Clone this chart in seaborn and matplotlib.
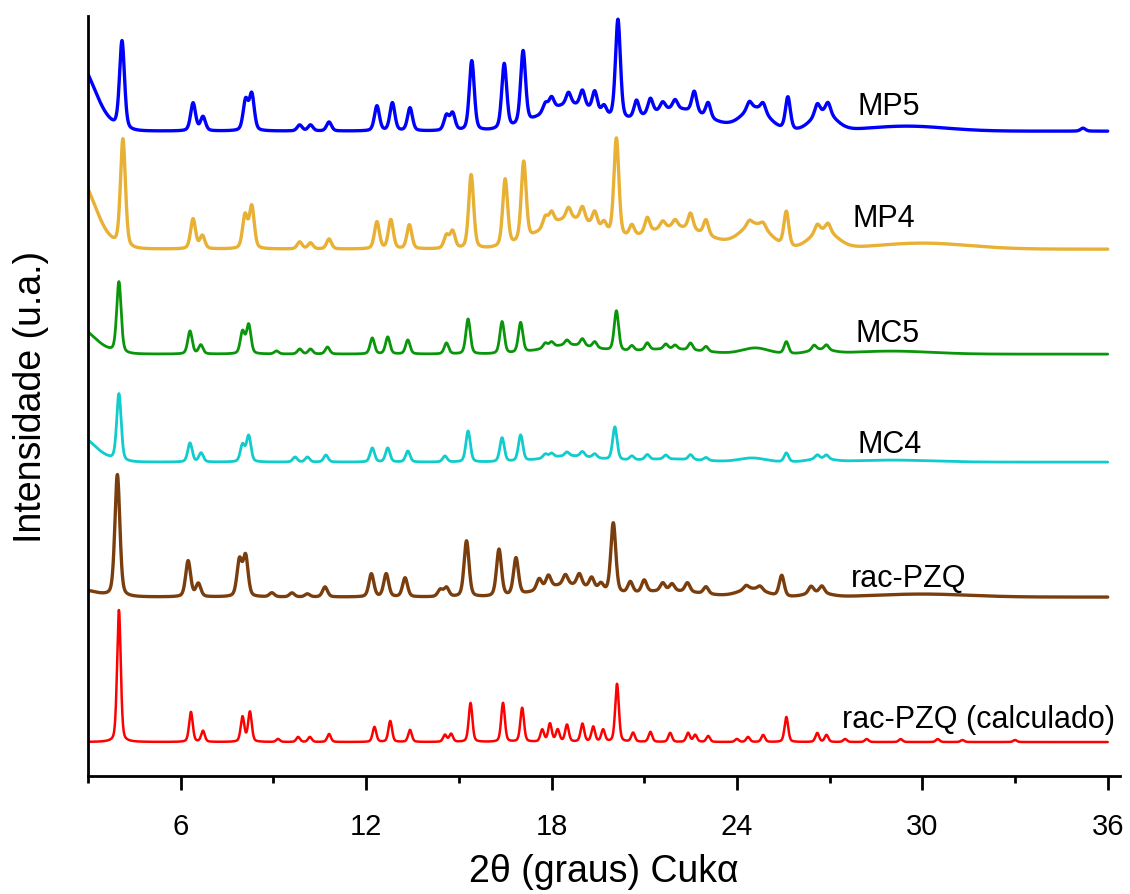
import numpy as np
import pandas as pd
import matplotlib
matplotlib.use("Agg")
import matplotlib.pyplot as plt
import seaborn as sns
from matplotlib.ticker import MultipleLocator

# ---------------- data ----------------
series_order = ["MP5", "MP4", "MC5", "MC4", "rac-PZQ", "rac-PZQ (calculado)"]
series_colors = ["#0000FF", "#E8B034", "#0A960A", "#10CCCC", "#7A3E0E", "#FF0000"]
series_offsets = [645, 527, 422, 314, 179, 34]

# MP5
mp5_pos = [4.10, 6.40, 6.72, 8.10, 8.30, 9.85, 10.20, 10.80, 12.35, 12.85, 13.42, 14.60, 14.80,
           15.42, 16.47, 17.08, 17.80, 18.00, 18.55, 19.00, 19.40, 19.70, 20.15, 20.75, 21.20,
           21.60, 22.00, 22.62, 23.07, 24.40, 24.85, 25.65, 26.60, 26.95, 35.20]
mp5_hgt = [88, 28, 14, 30, 36, 6, 6, 9, 25, 28, 23, 15, 17,
           70, 65, 73, 9, 12, 12, 16, 20, 9, 100, 17, 15,
           8, 9, 21, 15, 8, 9, 33, 11, 11, 3]
mp5_broad_pos = [2.6, 18.6, 22.0, 24.6, 26.8, 29.5]
mp5_broad_hgt = [72, 26, 22, 22, 18, 5]
mp5_broad_fwhm = [1.37, 2.2, 2.5, 1.0, 0.9, 3.0]

# MP4
mp4_pos = [4.13, 6.40, 6.70, 8.08, 8.30, 9.85, 10.20, 10.80, 12.35, 12.80, 13.40, 14.60, 14.80,
           15.40, 16.50, 17.10, 17.80, 18.00, 18.55, 19.00, 19.40, 19.70, 20.10, 20.60, 21.10,
           21.60, 22.00, 22.50, 23.00, 24.40, 24.85, 25.60, 26.60, 26.95]
mp4_hgt = [108, 30, 13, 33, 42, 7, 6, 10, 27, 29, 24, 13, 17,
           74, 67, 79, 11, 12, 11, 14, 15, 9, 98, 11, 15,
           7, 7, 16, 15, 5, 5, 35, 8, 8]
mp4_broad_pos = [2.6, 18.6, 22.0, 24.6, 26.8, 30.0]
mp4_broad_hgt = [76, 30, 22, 24, 18, 6]
mp4_broad_fwhm = [1.37, 2.2, 2.5, 1.1, 1.0, 3.5]

# MC5
mc5_pos = [4.00, 6.30, 6.65, 8.00, 8.20, 9.10, 9.85, 10.20, 10.75, 12.20, 12.70, 13.35, 14.60,
           15.30, 16.40, 17.00, 17.80, 18.00, 18.50, 19.00, 19.40, 20.10, 20.60, 21.10, 21.70,
           22.00, 22.50, 23.00, 25.60, 26.50, 26.90]
mc5_hgt = [71, 23, 9, 22, 29, 3, 5, 5, 7, 16, 17, 14, 11,
           35, 32, 30, 5, 5, 5, 7, 6, 40, 5, 7, 5,
           4, 7, 5, 12, 5, 5]
mc5_broad_pos = [2.6, 18.6, 21.8, 24.6, 26.7, 29.0]
mc5_broad_hgt = [28, 9, 5, 6, 4, 3]
mc5_broad_fwhm = [1.37, 2.0, 2.5, 1.0, 0.9, 3.0]

# MC4
mc4_pos = [4.00, 6.30, 6.66, 8.00, 8.20, 9.70, 10.10, 10.70, 12.20, 12.70, 13.35, 14.55, 15.30,
           16.40, 17.00, 17.80, 18.00, 18.50, 19.00, 19.40, 20.05, 20.60, 21.10, 21.70, 22.50,
           23.00, 25.60, 26.60, 26.90]
mc4_hgt = [67, 19, 9, 17, 26, 5, 5, 7, 14, 14, 11, 6, 31,
           24, 26, 4, 4, 4, 5, 4, 33, 4, 5, 4, 5,
           3, 9, 4, 4]
mc4_broad_pos = [2.6, 18.6, 21.8, 24.5, 26.7, 29.0]
mc4_broad_hgt = [28, 6, 3, 4, 3, 2]
mc4_broad_fwhm = [1.37, 2.0, 2.5, 1.0, 0.9, 3.0]

# rac-PZQ (experimental)
pzq_pos = [3.95, 6.24, 6.57, 7.90, 8.10, 8.95, 9.60, 10.10, 10.67, 12.17, 12.65, 13.26, 14.40,
           14.60, 15.25, 16.30, 16.85, 17.60, 17.90, 18.45, 18.90, 19.30, 19.60, 20.00, 20.55,
           21.00, 21.60, 21.90, 22.40, 23.00, 24.30, 24.75, 25.45, 26.40, 26.75]
pzq_hgt = [122, 36, 13, 36, 40, 4, 4, 3, 10, 23, 23, 19, 7,
           9, 56, 47, 37, 11, 12, 10, 12, 11, 7, 70, 11,
           12, 8, 7, 9, 7, 4, 4, 21, 7, 7]
pzq_broad_pos = [2.6, 18.5, 21.8, 24.5, 26.6, 30.0]
pzq_broad_hgt = [8, 12, 6, 8, 4, 3]
pzq_broad_fwhm = [1.37, 2.0, 2.5, 1.0, 0.9, 3.5]

# rac-PZQ (calculado)
calc_pos = [4.00, 6.33, 6.72, 8.00, 8.24, 9.15, 9.80, 10.18, 10.80, 12.27, 12.78, 13.42, 14.55,
            14.75, 15.38, 16.43, 17.05, 17.70, 17.95, 18.20, 18.50, 19.00, 19.35, 19.67, 20.12,
            20.64, 21.20, 21.84, 22.42, 22.65, 23.07, 24.00, 24.36, 24.85, 25.60, 26.60, 26.90,
            27.50, 28.20, 29.30, 30.50, 31.30, 33.00]
calc_hgt = [132, 30, 11, 25, 30, 3, 5, 5, 8, 15, 21, 12, 7,
            8, 39, 39, 34, 12, 18, 12, 17, 18, 15, 12, 58,
            9, 10, 9, 9, 7, 6, 3, 5, 7, 25, 9, 7,
            3, 3, 3, 3, 2, 2]

label_x = [27.9, 27.75, 27.85, 27.9, 27.7, 27.4]
label_y = [662, 550, 435, 324, 190, 49]

# ---------------- build curves ----------------
two_theta = np.round(np.arange(3.0, 36.0001, 0.01), 2)


def profile(x, pos, hgt, fwhm, eta):
    x = x[:, None]
    pos = np.asarray(pos, float)[None, :]
    hgt = np.asarray(hgt, float)[None, :]
    fwhm = np.broadcast_to(np.asarray(fwhm, float), pos.shape)
    d2 = (x - pos) ** 2 / fwhm ** 2
    g = np.exp(-4 * np.log(2) * d2)
    lor = 1.0 / (1.0 + 4 * d2)
    return (hgt * ((1 - eta) * g + eta * lor)).sum(axis=1)


sharp = {
    "MP5": (mp5_pos, mp5_hgt, 0.19),
    "MP4": (mp4_pos, mp4_hgt, 0.19),
    "MC5": (mc5_pos, mc5_hgt, 0.17),
    "MC4": (mc4_pos, mc4_hgt, 0.17),
    "rac-PZQ": (pzq_pos, pzq_hgt, 0.19),
    "rac-PZQ (calculado)": (calc_pos, calc_hgt, 0.14),
}
broad = {
    "MP5": (mp5_broad_pos, mp5_broad_hgt, mp5_broad_fwhm),
    "MP4": (mp4_broad_pos, mp4_broad_hgt, mp4_broad_fwhm),
    "MC5": (mc5_broad_pos, mc5_broad_hgt, mc5_broad_fwhm),
    "MC4": (mc4_broad_pos, mc4_broad_hgt, mc4_broad_fwhm),
    "rac-PZQ": (pzq_broad_pos, pzq_broad_hgt, pzq_broad_fwhm),
}

frames = []
for name, off in zip(series_order, series_offsets):
    p, h, w = sharp[name]
    y = off + profile(two_theta, p, h, w, 0.35)
    if name in broad:
        bp, bh, bw = broad[name]
        y = y + profile(two_theta, bp, bh, bw, 0.0)
    frames.append(pd.DataFrame({"2theta": two_theta, "intensity": y, "sample": name}))
df = pd.concat(frames, ignore_index=True)

# ---------------- plot ----------------
sns.set_style("ticks")
plt.rcParams["font.family"] = ["Liberation Sans", "DejaVu Sans"]
plt.rcParams["text.color"] = "black"
plt.rcParams["axes.labelcolor"] = "black"
plt.rcParams["xtick.color"] = "black"

fig = plt.figure(figsize=(11.3, 8.95), dpi=100)
ax = fig.add_axes([0.0779, 0.1318, 0.9133, 0.849])

line_w = {"MP5": 2.4, "MP4": 2.4, "MC5": 2.0, "MC4": 2.0, "rac-PZQ": 2.4, "rac-PZQ (calculado)": 1.8}
sns.lineplot(data=df, x="2theta", y="intensity", hue="sample", hue_order=series_order,
             palette=dict(zip(series_order, series_colors)), size="sample", sizes=line_w,
             estimator=None, sort=False, legend=False, ax=ax)

for name, lx, ly in zip(series_order, label_x, label_y):
    ax.text(lx, ly, name, fontsize=22, va="baseline", ha="left", color="black")

ax.set_xlim(3, 36.4)
ax.set_ylim(0, 760)
ax.xaxis.set_major_locator(MultipleLocator(6))
ax.xaxis.set_minor_locator(MultipleLocator(3))
ax.set_yticks([])
sns.despine(ax=ax)
for s in ("left", "bottom"):
    ax.spines[s].set_linewidth(2.0)
    ax.spines[s].set_color("black")
ax.tick_params(axis="x", which="major", direction="out", length=10, width=2, pad=16,
               labelsize=21, colors="black")
ax.tick_params(axis="x", which="minor", direction="out", length=5, width=2)

ax.set_xlabel("2θ (graus) Cukα", fontsize=27, labelpad=9)
ax.set_ylabel("Intensidade (u.a.)", fontsize=27, labelpad=28)

fig.savefig("out.png", dpi=100)
